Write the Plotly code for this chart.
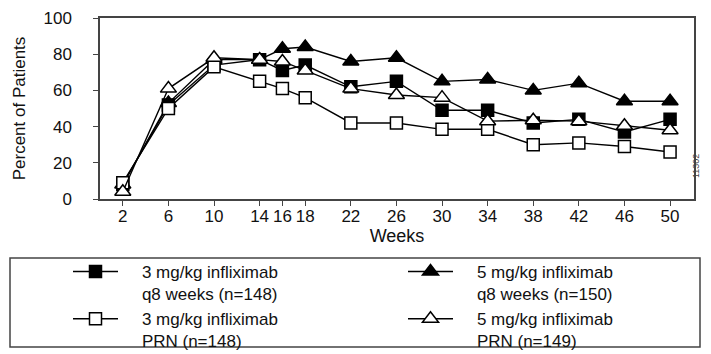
import plotly.graph_objects as go

weeks = [2, 6, 10, 14, 16, 18, 22, 26, 30, 34, 38, 42, 46, 50]
tick_weeks = [2, 6, 10, 14, 16, 18, 22, 26, 30, 34, 38, 42, 46, 50]

mg3_q8 = [8, 52, 74, 77, 71, 74, 62, 65, 49, 49, 42, 44, 37, 44]
mg5_q8 = [8, 53, 77, 77, 83, 84, 76, 78, 65, 66, 60, 64, 54, 54]
mg3_prn = [9, 50, 73, 65, 61, 56, 42, 42, 38.5, 38.5, 30, 31, 29, 26]
mg5_prn = [4, 61, 78, 77, 76, 71, 61, 57.5, 56, 43, 43.5, 43, 40.5, 38]

IND = "\u00a0" * 4
names = [
    IND + "3 mg/kg infliximab<br>" + IND + "q8 weeks (n=148)",
    IND + "5 mg/kg infliximab<br>" + IND + "q8 weeks (n=150)",
    IND + "3 mg/kg infliximab<br>" + IND + "PRN (n=148)",
    IND + "5 mg/kg infliximab<br>" + IND + "PRN (n=149)",
]

FONT = "Liberation Sans, Arial, sans-serif"

# plot area in pixels (for placing legends/frames)
L, R, T, B = 100, 694, 18, 199
PW, PH = R - L, B - T

def px_x(x):
    return (x - L) / PW

def px_y(y):
    return (B - y) / PH

fig = go.Figure()

def add(y, name, symbol, fill, legend, size):
    fig.add_trace(go.Scatter(
        x=weeks, y=y, name=name, mode="lines+markers",
        line=dict(color="black", width=1.4),
        marker=dict(symbol=symbol, size=size, color=fill,
                    line=dict(color="black", width=1.5)),
        legend=legend,
    ))

add(mg3_q8, names[0], "square", "black", "legend", 12)
add(mg5_q8, names[1], "triangle-up", "black", "legend2", 14)
add(mg3_prn, names[2], "square", "white", "legend", 12)
add(mg5_prn, names[3], "triangle-up", "white", "legend2", 14)

leg_common = dict(
    xref="paper", yref="paper", yanchor="top", xanchor="left",
    font=dict(family=FONT, size=17, color="#111"),
    bgcolor="rgba(0,0,0,0)", itemwidth=45, valign="top",
    traceorder="normal",
)

fig.update_layout(
    width=711, height=354,
    margin=dict(l=L, r=711 - R, t=T, b=354 - B, autoexpand=False),
    paper_bgcolor="white", plot_bgcolor="white",
    font=dict(family=FONT, size=17, color="#111"),
    showlegend=True,
    legend=dict(x=px_x(68), y=px_y(254), **leg_common),
    legend2=dict(x=px_x(403), y=px_y(254), **leg_common),
    xaxis=dict(
        range=[0, 52.1], tickvals=tick_weeks, ticktext=[str(t) for t in tick_weeks],
        showgrid=False, zeroline=False, showline=True, linecolor="#444", linewidth=1.5,
        mirror=True, ticks="outside", ticklen=5, tickcolor="#444",
        tickfont=dict(size=17, family=FONT), ticklabelstandoff=-4,
        title=dict(text="Weeks", font=dict(size=18, family=FONT), standoff=0),
    ),
    yaxis=dict(
        range=[0, 100], tickvals=[0, 20, 40, 60, 80, 100],
        showgrid=False, zeroline=False, showline=True, linecolor="#444", linewidth=1.5,
        mirror=True, ticks="outside", ticklen=5, tickcolor="#444",
        tickfont=dict(size=17, family=FONT), ticklabelstandoff=18,
        title=dict(text="Percent of Patients", font=dict(size=17, family=FONT), standoff=14),
    ),
)

# legend frame
fig.add_shape(type="rect", xref="paper", yref="paper",
              x0=px_x(10), x1=px_x(700), y0=px_y(347), y1=px_y(258),
              line=dict(color="#444", width=1.5), fillcolor="rgba(0,0,0,0)")

fig.add_annotation(text="11302", xref="paper", yref="paper",
                   x=px_x(703), y=px_y(180), textangle=-90,
                   showarrow=False, font=dict(size=9, family=FONT, color="#444"))

fig.write_html("out.html")
